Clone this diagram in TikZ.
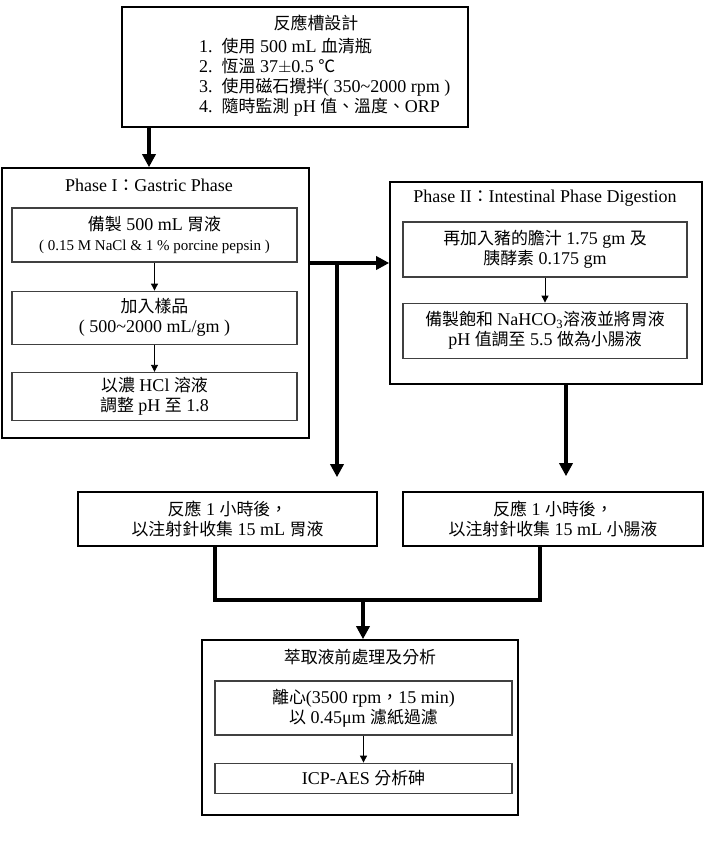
\documentclass[tikz,border=0pt]{standalone}
\usepackage{fontspec}
\setmainfont{Liberation Serif}
\newfontfamily\cjk[Scale=0.94]{Noto Sans CJK TC}
\newcommand{\zh}[1]{{\cjk #1}}
\usetikzlibrary{positioning,arrows.meta}
\tikzset{
  pointer/.style={-{Triangle[length=7pt,width=7pt]}, draw, black, line width=0.9pt},
  flow/.style={-{Triangle[length=13pt,width=13pt]}, draw, black, line width=3.5pt},
  flowline/.style={draw, black, line width=3.5pt},
}

\begin{document}
\begin{tikzpicture}[x=1pt,y=1pt,font=\fontsize{18}{20}\selectfont,
            panel/.style={rectangle,draw=black,line width=1.6pt,inner sep=2pt,align=center},
            cell/.style={rectangle,draw=black!75,line width=1.2pt,minimum width=285pt,inner sep=2pt,align=center},
            title/.style={inner sep=0pt}]
            \useasboundingbox (0,0) rectangle (706,-841);

            % reactor design
            \node[panel, minimum width=346pt, minimum height=120pt] (design) at (295,-67) {};
            \node[title] (designtitle) at (316,-23) {\zh{反應槽設計}};
            \node[title, anchor=west, align=left] (designlist) at (199,-77)
                {1.~~\zh{使用} 500 mL \zh{血清瓶}\\
                 2.~~\zh{恆溫} 37$\pm$0.5 \zh{℃}\\
                 3.~~\zh{使用磁石攪拌}( 350\textasciitilde2000 rpm )\\
                 4.~~\zh{隨時監測} pH \zh{值、溫度、}ORP};

            % phase I
            \node[panel, minimum width=307pt, minimum height=270pt] (gastric) at (155.5,-303) {};
            \node[title] (gastrictitle) at (149,-185) {Phase I\zh{：}Gastric Phase};
            \node[cell, minimum height=54pt] (g1) at (154.5,-235)
                {\zh{備製} 500 mL \zh{胃液}\\{\fontsize{15}{19}\selectfont ( 0.15 M NaCl \& 1 \% porcine pepsin )}};
            \node[cell, minimum height=53pt, below=28pt of g1] (g2)
                {\zh{加入樣品}\\( 500\textasciitilde2000 mL/gm )};
            \node[cell, minimum height=48pt, below=27pt of g2] (g3)
                {\zh{以濃} HCl \zh{溶液}\\\zh{調整} pH \zh{至} 1.8};

            % phase II
            \node[panel, minimum width=312pt, minimum height=202pt] (intestinal) at (546,-283) {};
            \node[title] (intestinaltitle) at (545,-198) {Phase II\zh{：}Intestinal Phase Digestion};
            \node[cell, minimum width=284pt, minimum height=55pt] (i1) at (545,-249.5)
                {\zh{再加入豬的膽汁} 1.75 gm \zh{及}\\\zh{胰酵素} 0.175 gm};
            \node[cell, minimum width=284pt, minimum height=55pt, below=25pt of i1] (i2)
                {\zh{備製飽和} NaHCO\textsubscript{3}\zh{溶液並將胃液}\\pH \zh{值調至} 5.5 \zh{做為小腸液}};

            % sampling
            \node[panel, minimum width=299pt, minimum height=54pt] (gsample) at (227.5,-519)
                {\zh{反應} 1 \zh{小時後，}\\\zh{以注射針收集} 15 mL \zh{胃液}};
            \node[panel, minimum width=300pt, minimum height=54pt] (isample) at (553,-519)
                {\zh{反應} 1 \zh{小時後，}\\\zh{以注射針收集} 15 mL \zh{小腸液}};

            % analysis
            \node[panel, minimum width=316pt, minimum height=175pt] (analysis) at (360,-727.5) {};
            \node[title] (analysistitle) at (360,-657) {\zh{萃取液前處理及分析}};
            \node[cell, minimum width=297pt, minimum height=54pt] (a1) at (363.5,-708)
                {\zh{離心}(3500 rpm\zh{，}15 min)\\\zh{以} 0.45μm \zh{濾紙過濾}};
            \node[cell, minimum width=297pt, minimum height=30pt, below=27pt of a1] (a2)
                {ICP-AES \zh{分析砷}};

            \coordinate (split) at (337,-263);
            \coordinate (idrop) at (566,-384);
            \coordinate (gleg) at (215,-600);
            \coordinate (ileg) at (540,-600);
            \coordinate (merge) at (363,-600);

            \draw [flow] (design.south -| gastrictitle) to (gastric.north -| gastrictitle);
            \draw [pointer] (g1) to (g2);
            \draw [pointer] (g2) to (g3);
            \draw [pointer] (i1) to (i2);
            \draw [pointer] (a1) to (a2);
            \draw [flow] (gastric.east |- split) to (intestinal.west |- split);
            \draw [flow, shorten >=14pt] (split) to (split |- gsample.north);
            \draw [flow, shorten >=15pt] (idrop) to (idrop |- isample.north);
            \draw [flowline] (gsample.south -| gleg) -- (gleg) -- (ileg) -- (isample.south -| ileg);
            \draw [flow] (merge) to (merge |- analysis.north);

\end{tikzpicture}
\end{document}
